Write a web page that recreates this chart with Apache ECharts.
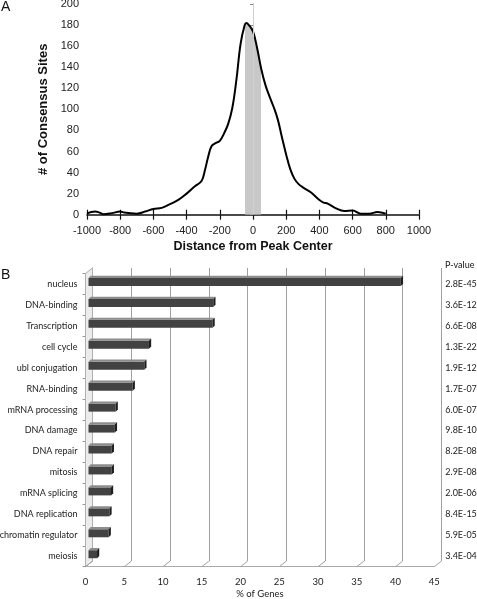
<!DOCTYPE html>
<html><head><meta charset="utf-8">
<script src="https://cdn.jsdelivr.net/npm/echarts@6/dist/echarts.min.js"></script>
<style>html,body{margin:0;padding:0;background:#fff}#c{width:477px;height:599px}</style>
</head><body><div id="c"></div>
<script>
// Panel A: consensus sites vs distance from peak center
const distance = [-1000,-975,-950,-925,-900,-850,-800,-775,-750,-700,-650,-600,-550,-500,-450,-400,-350,-310,-290,-270,-250,-225,-200,-175,-150,-125,-100,-75,-50,-40,-25,0,25,50,75,100,125,150,175,200,225,250,275,300,350,400,425,450,500,550,600,650,700,750,800];
const sites =    [1,2.5,3,2,0.5,1.5,3,2,1.5,1,3,5.5,6.5,10,14,20,27,32,42,55,65,68,70,77,86,101,128,162,180,182,180,174,158,138,123,112,102,90,73,57,43,34,29,26,21,14,11.5,10.5,6,3.5,4,1,1,2.5,1];
const distTicks = [-1000,-800,-600,-400,-200,0,200,400,600,800,1000];
const siteTicks = [0,20,40,60,80,100,120,140,160,180,200];

// Panel B: functional categories
const categories = ['nucleus','DNA-binding','Transcription','cell cycle','ubl conjugation','RNA-binding','mRNA processing','DNA damage','DNA repair','mitosis','mRNA splicing','DNA replication','chromatin regulator','meiosis'];
const genePct = [40.3,16.1,16.0,7.8,7.2,5.7,3.5,3.4,3.0,3.0,2.9,2.7,2.6,1.1];
const pValues = ['2.8E-45','3.6E-12','6.6E-08','1.3E-22','1.9E-12','1.7E-07','6.0E-07','9.8E-10','8.2E-08','2.9E-08','2.0E-06','8.4E-15','5.9E-05','3.4E-04'];
const pctTicks = [0,5,10,15,20,25,30,35,40,45];

const curve = distance.map((d,i)=>[d, sites[i]]);
const barData = genePct.map((v,i)=>[v, i]);

const fA = 'Liberation Sans, Arial, sans-serif';
const fB = 'Lato, sans-serif';
const fsB = 9;
const chart = echarts.init(document.getElementById('c'), null, {renderer:'canvas'});

const D = 7, H = 5.5; // 3D depth offsets (styling)

chart.setOption({
  animation:false,
  backgroundColor:'#fff',
  title:[
    {text:'A', left:1, top:0, padding:0, textStyle:{fontFamily:fA, fontSize:14, fontWeight:'normal', color:'#111'}},
    {text:'B', left:1, top:268, padding:0, textStyle:{fontFamily:fA, fontSize:14, fontWeight:'normal', color:'#111'}},
    {text:'P-value', left:445, top:261, padding:0, textStyle:{fontFamily:fB, fontSize:fsB, fontWeight:'normal', color:'#111'}}
  ],
  grid:[
    {left:87, top:4, width:332, height:210.7, outerBoundsMode:'none', containLabel:false},
    {left:85.5, top:273.5, width:348.8, height:293.2, outerBoundsMode:'none', containLabel:false},
    {left:88.5, top:271.5, width:348.8, height:293.2, outerBoundsMode:'none', containLabel:false},
    {left:92.5, top:268, width:348.8, height:293.2, outerBoundsMode:'none', containLabel:false}
  ],
  visualMap:[{
    type:'piecewise', show:false, dimension:0, seriesIndex:0,
    pieces:[{gte:-50, lte:50, color:'#c8c8c8'}],
    outOfRange:{color:'rgba(255,255,255,0)'}
  }],
  xAxis:[
    {gridIndex:0, type:'value', min:distTicks[0], max:distTicks[distTicks.length-1], interval:200,
     axisLine:{show:true, onZero:false, lineStyle:{color:'#111', width:1.5}},
     axisTick:{show:true, length:5, lineStyle:{color:'#111', width:1.2}},
     axisLabel:{fontFamily:fA, fontSize:11, color:'#222', margin:11, formatter:v=>String(v)},
     splitLine:{show:false},
     name:'Distance from Peak Center', nameLocation:'middle', nameGap:25,
     nameTextStyle:{fontFamily:fA, fontSize:12.5, fontWeight:'bold', color:'#111'}},
    {gridIndex:0, type:'value', position:'bottom', min:-1000, max:1000, interval:200,
     axisLine:{show:false}, axisTick:{show:true, inside:true, length:5, lineStyle:{color:'#111', width:1.2}},
     axisLabel:{show:false}, splitLine:{show:false}},
    {gridIndex:1, type:'value', min:pctTicks[0], max:pctTicks[pctTicks.length-1], interval:5,
     axisLine:{show:true, lineStyle:{color:'#aaa'}}, axisTick:{show:false},
     axisLabel:{fontFamily:fB, fontSize:fsB+0.5, color:'#222', margin:10},
     splitLine:{show:false},
     name:'% of Genes', nameLocation:'middle', nameGap:22,
     nameTextStyle:{fontFamily:fB, fontSize:fsB+0.5, color:'#222'}},
    {gridIndex:2, type:'value', min:0, max:45, show:false, splitLine:{show:false}},
    {gridIndex:3, type:'value', min:0, max:45, interval:5,
     axisLine:{show:false}, axisTick:{show:false}, axisLabel:{show:false},
     splitLine:{show:true, lineStyle:{color:'#a0a0a0', width:1}}}
  ],
  yAxis:[
    {gridIndex:0, type:'value', min:siteTicks[0], max:siteTicks[siteTicks.length-1], interval:20,
     axisLine:{show:true, lineStyle:{color:'#aaa'}},
     axisTick:{show:true, length:3, lineStyle:{color:'#888'}},
     axisLabel:{fontFamily:fA, fontSize:11, color:'#222', margin:8},
     splitLine:{show:false},
     name:'# of Consensus Sites', nameLocation:'middle', nameGap:30, nameRotate:90,
     nameTextStyle:{fontFamily:fA, fontSize:13, fontWeight:'bold', color:'#111'}},
    {gridIndex:1, type:'category', data:categories, inverse:true,
     axisLine:{show:true, lineStyle:{color:'#aaa'}},
     axisTick:{show:true, length:3, lineStyle:{color:'#999'}},
     axisLabel:{fontFamily:fB, fontSize:fsB, color:'#222', margin:8}},
    {gridIndex:1, type:'category', data:pValues, inverse:true, position:'right',
     axisLine:{show:false}, axisTick:{show:false},
     axisLabel:{fontFamily:fB, fontSize:fsB, color:'#222', margin:11, align:'left'}},
    {gridIndex:2, type:'category', data:categories, inverse:true, show:false},
    {gridIndex:3, type:'value', min:0, max:1, position:'right',
     axisLine:{show:true, lineStyle:{color:'#a0a0a0'}}, axisTick:{show:false},
     axisLabel:{show:false}, splitLine:{show:false}}
  ],
  series:[
    {type:'line', xAxisIndex:0, yAxisIndex:0, data:curve, smooth:0.4, symbol:'none',
     lineStyle:{width:0}, areaStyle:{opacity:1}, z:1,
     markLine:{silent:true, symbol:'none', label:{show:false},
       lineStyle:{color:'#d0d0d0', width:1, type:'solid'}, data:[{xAxis:0}]}},
    {type:'line', xAxisIndex:0, yAxisIndex:0, data:curve, smooth:0.4, symbol:'none',
     lineStyle:{color:'#000', width:2}, z:3},
    {type:'custom', xAxisIndex:4, yAxisIndex:4, data:pctTicks.map(v=>[v,0]), z:1, silent:true,
     renderItem:function(params, api){
       const b = api.coord([api.value(0), 0]);
       const children = [];
       if (params.dataIndex === 0) {
         const t = api.coord([0, 1]);
         children.push({type:'polygon', shape:{points:[[t[0],t[1]],[b[0],b[1]],[b[0]-D,b[1]+H],[t[0]-D,t[1]+H]]},
           style:{fill:'#ececec', stroke:'#b0b0b0', lineWidth:1}});
       }
       children.push({type:'line', shape:{x1:b[0], y1:b[1], x2:b[0]-D, y2:b[1]+H},
         style:{stroke:'#a0a0a0', lineWidth:1}});
       return {type:'group', children:children};
     }},
    {type:'custom', xAxisIndex:3, yAxisIndex:3, data:barData, encode:{x:0, y:1}, z:5, silent:true,
     renderItem:function(params, api){
       const s = api.coord([0, api.value(1)]);
       const e = api.coord([api.value(0), api.value(1)]);
       const h = 8, d = 2.2;
       const y0 = s[1]-h/2, y1 = s[1]+h/2;
       return {type:'group', children:[
         {type:'rect', shape:{x:s[0], y:y0, width:e[0]-s[0], height:h}, style:{fill:'#424242'}},
         {type:'polygon', shape:{points:[[s[0],y0],[e[0],y0],[e[0]+d,y0-d],[s[0]+d,y0-d]]}, style:{fill:'#8c8c8c'}},
         {type:'polygon', shape:{points:[[e[0],y0],[e[0]+d,y0-d],[e[0]+d,y1-d],[e[0],y1]]}, style:{fill:'#1e1e1e'}}
       ]};
     }}
  ]
});
</script></body></html>
